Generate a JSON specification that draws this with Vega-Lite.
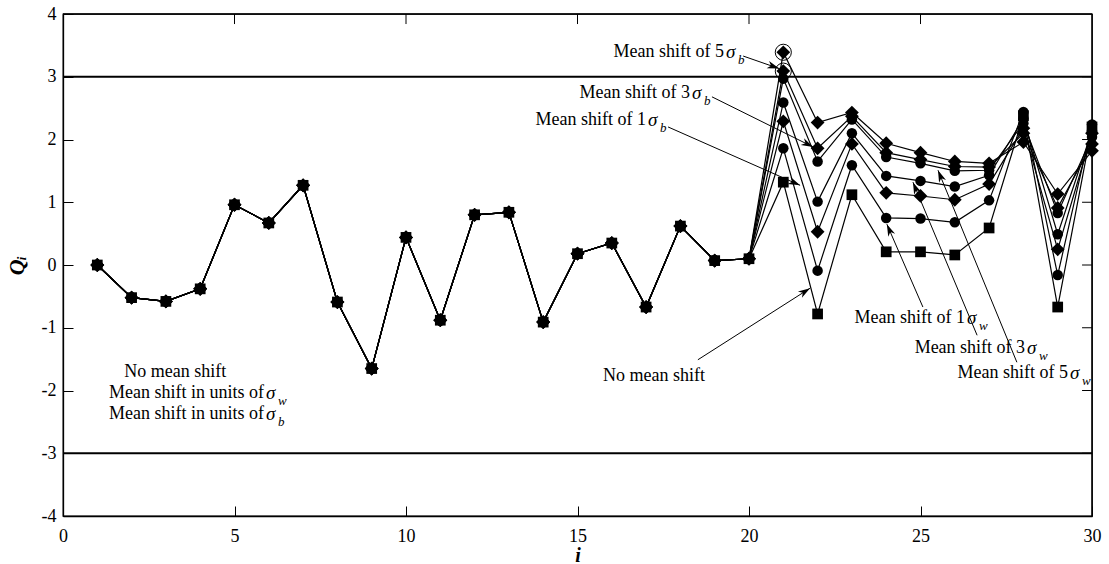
{
  "$schema": "https://vega.github.io/schema/vega-lite/v6.json",
  "width": 1029,
  "height": 502,
  "autosize": {"type": "none"},
  "padding": {"left": 63, "top": 14, "right": 17, "bottom": 48},
  "background": "white",
  "config": {
    "view": {"stroke": "black", "strokeWidth": 1.3},
    "font": "Liberation Serif",
    "axis": {
      "domainColor": "black", "tickColor": "black", "labelColor": "black", "titleColor": "black",
      "grid": false, "tickSize": -10, "domainWidth": 1.3, "tickWidth": 1,
      "labelFont": "Liberation Serif", "labelFontSize": 18, "titleFont": "Liberation Serif",
      "labelFlush": false, "labelOverlap": false
    }
  },
  "datasets": {
    "qs": [
      {"i": 1, "S0": 0, "W1": 0, "W3": 0, "W5": 0, "B1": 0, "B3": 0, "B5": 0},
      {"i": 2, "S0": -0.52, "W1": -0.52, "W3": -0.52, "W5": -0.52, "B1": -0.52, "B3": -0.52, "B5": -0.52},
      {"i": 3, "S0": -0.58, "W1": -0.58, "W3": -0.58, "W5": -0.58, "B1": -0.58, "B3": -0.58, "B5": -0.58},
      {"i": 4, "S0": -0.38, "W1": -0.38, "W3": -0.38, "W5": -0.38, "B1": -0.38, "B3": -0.38, "B5": -0.38},
      {"i": 5, "S0": 0.96, "W1": 0.96, "W3": 0.96, "W5": 0.96, "B1": 0.96, "B3": 0.96, "B5": 0.96},
      {"i": 6, "S0": 0.67, "W1": 0.67, "W3": 0.67, "W5": 0.67, "B1": 0.67, "B3": 0.67, "B5": 0.67},
      {"i": 7, "S0": 1.27, "W1": 1.27, "W3": 1.27, "W5": 1.27, "B1": 1.27, "B3": 1.27, "B5": 1.27},
      {"i": 8, "S0": -0.59, "W1": -0.59, "W3": -0.59, "W5": -0.59, "B1": -0.59, "B3": -0.59, "B5": -0.59},
      {"i": 9, "S0": -1.65, "W1": -1.65, "W3": -1.65, "W5": -1.65, "B1": -1.65, "B3": -1.65, "B5": -1.65},
      {"i": 10, "S0": 0.44, "W1": 0.44, "W3": 0.44, "W5": 0.44, "B1": 0.44, "B3": 0.44, "B5": 0.44},
      {"i": 11, "S0": -0.88, "W1": -0.88, "W3": -0.88, "W5": -0.88, "B1": -0.88, "B3": -0.88, "B5": -0.88},
      {"i": 12, "S0": 0.8, "W1": 0.8, "W3": 0.8, "W5": 0.8, "B1": 0.8, "B3": 0.8, "B5": 0.8},
      {"i": 13, "S0": 0.84, "W1": 0.84, "W3": 0.84, "W5": 0.84, "B1": 0.84, "B3": 0.84, "B5": 0.84},
      {"i": 14, "S0": -0.91, "W1": -0.91, "W3": -0.91, "W5": -0.91, "B1": -0.91, "B3": -0.91, "B5": -0.91},
      {"i": 15, "S0": 0.18, "W1": 0.18, "W3": 0.18, "W5": 0.18, "B1": 0.18, "B3": 0.18, "B5": 0.18},
      {"i": 16, "S0": 0.35, "W1": 0.35, "W3": 0.35, "W5": 0.35, "B1": 0.35, "B3": 0.35, "B5": 0.35},
      {"i": 17, "S0": -0.67, "W1": -0.67, "W3": -0.67, "W5": -0.67, "B1": -0.67, "B3": -0.67, "B5": -0.67},
      {"i": 18, "S0": 0.62, "W1": 0.62, "W3": 0.62, "W5": 0.62, "B1": 0.62, "B3": 0.62, "B5": 0.62},
      {"i": 19, "S0": 0.07, "W1": 0.07, "W3": 0.07, "W5": 0.07, "B1": 0.07, "B3": 0.07, "B5": 0.07},
      {"i": 20, "S0": 0.1, "W1": 0.1, "W3": 0.1, "W5": 0.1, "B1": 0.1, "B3": 0.1, "B5": 0.1},
      {"i": 21, "S0": 1.32, "W1": 1.86, "W3": 2.59, "W5": 2.97, "B1": 2.29, "B3": 3.09, "B5": 3.39},
      {"i": 22, "S0": -0.78, "W1": -0.09, "W3": 1.01, "W5": 1.65, "B1": 0.53, "B3": 1.86, "B5": 2.27},
      {"i": 23, "S0": 1.12, "W1": 1.59, "W3": 2.1, "W5": 2.32, "B1": 1.93, "B3": 2.37, "B5": 2.43},
      {"i": 24, "S0": 0.21, "W1": 0.75, "W3": 1.42, "W5": 1.72, "B1": 1.15, "B3": 1.79, "B5": 1.94},
      {"i": 25, "S0": 0.21, "W1": 0.74, "W3": 1.34, "W5": 1.62, "B1": 1.1, "B3": 1.68, "B5": 1.79},
      {"i": 26, "S0": 0.16, "W1": 0.68, "W3": 1.25, "W5": 1.5, "B1": 1.04, "B3": 1.57, "B5": 1.65},
      {"i": 27, "S0": 0.59, "W1": 1.03, "W3": 1.43, "W5": 1.51, "B1": 1.29, "B3": 1.56, "B5": 1.62},
      {"i": 28, "S0": 2.38, "W1": 2.44, "W3": 2.33, "W5": 2.26, "B1": 2.18, "B3": 2.1, "B5": 1.96},
      {"i": 29, "S0": -0.67, "W1": -0.16, "W3": 0.49, "W5": 0.83, "B1": 0.25, "B3": 0.91, "B5": 1.13},
      {"i": 30, "S0": 2.2, "W1": 2.24, "W3": 2.14, "W5": 2.04, "B1": 2.1, "B3": 1.93, "B5": 1.82}
    ],
    "limits": [{"lim": 3}, {"lim": -3}],
    "frameh": [{"v": 4}],
    "framev": [{"v": 30}],
    "topticks": [{"t": 5, "a": 4, "b": 3.84}, {"t": 10, "a": 4, "b": 3.84}, {"t": 15, "a": 4, "b": 3.84}, {"t": 20, "a": 4, "b": 3.84}, {"t": 25, "a": 4, "b": 3.84}],
    "rightticks": [{"t": -3, "a": 30, "b": 29.71}, {"t": -2, "a": 30, "b": 29.71}, {"t": -1, "a": 30, "b": 29.71}, {"t": 0, "a": 30, "b": 29.71}, {"t": 1, "a": 30, "b": 29.71}, {"t": 2, "a": 30, "b": 29.71}, {"t": 3, "a": 30, "b": 29.71}],
    "arrows": [
      {"x1": 19.83, "y1": 3.33, "x2": 20.88, "y2": 3.13},
      {"x1": 18.92, "y1": 2.68, "x2": 21.87, "y2": 1.88},
      {"x1": 17.64, "y1": 2.2, "x2": 21.49, "y2": 1.27},
      {"x1": 18.51, "y1": -1.51, "x2": 21.78, "y2": -0.37},
      {"x1": 25.07, "y1": -0.67, "x2": 24.02, "y2": 0.65},
      {"x1": 26.65, "y1": -1.12, "x2": 24.78, "y2": 1.32},
      {"x1": 27.81, "y1": -1.55, "x2": 25.51, "y2": 1.51}
    ],
    "notes": [
      {"x": 19.27, "y": 3.394, "pre": "Mean shift of 5", "sub": "b"},
      {"x": 18.28, "y": 2.741, "pre": "Mean shift of 3", "sub": "b"},
      {"x": 17.0, "y": 2.311, "pre": "Mean shift of 1", "sub": "b"},
      {"x": 26.3, "y": -0.845, "pre": "Mean shift of 1", "sub": "w"},
      {"x": 28.05, "y": -1.323, "pre": "Mean shift of 3", "sub": "w"},
      {"x": 29.3, "y": -1.721, "pre": "Mean shift of 5", "sub": "w"},
      {"x": 5.86, "y": -2.04, "pre": "Mean shift in units of", "sub": "w"},
      {"x": 5.86, "y": -2.375, "pre": "Mean shift in units of", "sub": "b"}
    ],
    "plain": [
      {"x": 17.23, "y": -1.77, "label": "No mean shift"},
      {"x": 3.27, "y": -1.705, "label": "No mean shift"}
    ]
  },
  "layer": [
    {
      "data": {"name": "qs"},
      "transform": [{"fold": ["S0", "W1", "W3", "W5", "B1", "B3", "B5"], "as": ["series", "q"]}],
      "mark": {"type": "line", "color": "black", "strokeWidth": 1.2},
      "encoding": {
        "x": {"field": "i", "type": "quantitative", "scale": {"domain": [0, 30], "nice": false},
          "axis": {"orient": "bottom", "values": [0, 5, 10, 15, 20, 25, 30], "title": "i", "tickSize": -10,
            "labelFont": "Liberation Serif", "labelFontSize": 18, "titleFont": "Liberation Serif",
            "titleFontStyle": "italic", "titleFontWeight": "bold", "titleFontSize": 20, "titlePadding": 0, "labelPadding": 21}},
        "y": {"field": "q", "type": "quantitative", "scale": {"domain": [-4, 4], "nice": false, "zero": false},
          "axis": {"orient": "left", "values": [-4, -3, -2, -1, 0, 1, 2, 3, 4], "labelExpr": "'' + datum.value", "tickSize": -10,
            "labelFont": "Liberation Serif", "labelFontSize": 18, "titleFont": "Liberation Serif",
            "title": "Qᵢ", "titleFontStyle": "italic", "titleFontWeight": "bold", "titleFontSize": 22, "titlePadding": 13, "labelPadding": 17}},
        "detail": {"field": "series"}
      }
    },
    {
      "data": {"name": "limits"},
      "mark": {"type": "rule", "color": "black", "strokeWidth": 2.2},
      "encoding": {
        "y": {"field": "lim", "type": "quantitative"}
      }
    },
    {
      "data": {"name": "frameh"},
      "mark": {"type": "rule", "color": "black", "strokeWidth": 1.3},
      "encoding": {
        "y": {"field": "v", "type": "quantitative"}
      }
    },
    {
      "data": {"name": "framev"},
      "mark": {"type": "rule", "color": "black", "strokeWidth": 1.3},
      "encoding": {
        "x": {"field": "v", "type": "quantitative"}
      }
    },
    {
      "data": {"name": "topticks"},
      "mark": {"type": "rule", "color": "black", "strokeWidth": 1},
      "encoding": {
        "x": {"field": "t", "type": "quantitative"},
        "y": {"field": "a", "type": "quantitative"},
        "y2": {"field": "b"}
      }
    },
    {
      "data": {"name": "rightticks"},
      "mark": {"type": "rule", "color": "black", "strokeWidth": 1},
      "encoding": {
        "y": {"field": "t", "type": "quantitative"},
        "x": {"field": "a", "type": "quantitative"},
        "x2": {"field": "b"}
      }
    },
    {
      "data": {"name": "qs"},
      "transform": [{"fold": ["S0", "W1", "W3", "W5", "B1", "B3", "B5"], "as": ["series", "q"]}, {"filter": {"field": "series", "oneOf": ["S0"]}}],
      "mark": {"type": "point", "shape": "square", "filled": true, "color": "black", "opacity": 1, "size": 115},
      "encoding": {
        "x": {"field": "i", "type": "quantitative"},
        "y": {"field": "q", "type": "quantitative"}
      }
    },
    {
      "data": {"name": "qs"},
      "transform": [{"fold": ["S0", "W1", "W3", "W5", "B1", "B3", "B5"], "as": ["series", "q"]}, {"filter": {"field": "series", "oneOf": ["W1", "W3", "W5"]}}],
      "mark": {"type": "point", "shape": "circle", "filled": true, "color": "black", "opacity": 1, "size": 110},
      "encoding": {
        "x": {"field": "i", "type": "quantitative"},
        "y": {"field": "q", "type": "quantitative"}
      }
    },
    {
      "data": {"name": "qs"},
      "transform": [{"fold": ["S0", "W1", "W3", "W5", "B1", "B3", "B5"], "as": ["series", "q"]}, {"filter": {"field": "series", "oneOf": ["B1", "B3", "B5"]}}],
      "mark": {"type": "point", "shape": "diamond", "filled": true, "color": "black", "opacity": 1, "size": 190},
      "encoding": {
        "x": {"field": "i", "type": "quantitative"},
        "y": {"field": "q", "type": "quantitative"}
      }
    },
    {
      "data": {"name": "qs"},
      "transform": [{"fold": ["S0", "W1", "W3", "W5", "B1", "B3", "B5"], "as": ["series", "q"]}, {"filter": {"field": "q", "gt": 3}}],
      "mark": {"type": "point", "shape": "circle", "filled": false, "stroke": "black", "strokeWidth": 1, "opacity": 1, "size": 260},
      "encoding": {
        "x": {"field": "i", "type": "quantitative"},
        "y": {"field": "q", "type": "quantitative"}
      }
    },
    {
      "data": {"name": "arrows"},
      "mark": {"type": "rule", "color": "black", "strokeWidth": 1},
      "encoding": {
        "x": {"field": "x1", "type": "quantitative"},
        "y": {"field": "y1", "type": "quantitative"},
        "x2": {"field": "x2"},
        "y2": {"field": "y2"}
      }
    },
    {
      "data": {"name": "arrows"},
      "transform": [{"calculate": "atan2((datum.x2 - datum.x1) * 34.3, (datum.y2 - datum.y1) * 62.75) * 180 / PI", "as": "ang"}],
      "mark": {"type": "point", "shape": "M0,0L0.5,1.6L0,1.15L-0.5,1.6Z", "filled": true, "color": "black", "opacity": 1, "size": 225},
      "encoding": {
        "x": {"field": "x2", "type": "quantitative"},
        "y": {"field": "y2", "type": "quantitative"},
        "angle": {"field": "ang", "type": "quantitative", "scale": null}
      }
    },
    {
      "data": {"name": "notes"},
      "mark": {"type": "text", "align": "right", "baseline": "middle", "font": "Liberation Serif", "fontSize": 18, "color": "black"},
      "encoding": {
        "x": {"field": "x", "type": "quantitative"},
        "y": {"field": "y", "type": "quantitative"},
        "text": {"field": "pre"}
      }
    },
    {
      "data": {"name": "notes"},
      "mark": {"type": "text", "align": "left", "baseline": "middle", "dx": 2, "font": "Liberation Serif", "fontStyle": "italic", "fontSize": 19, "color": "black", "text": "σ"},
      "encoding": {
        "x": {"field": "x", "type": "quantitative"},
        "y": {"field": "y", "type": "quantitative"}
      }
    },
    {
      "data": {"name": "notes"},
      "mark": {"type": "text", "align": "left", "baseline": "middle", "dx": 14, "dy": 8, "font": "Liberation Serif", "fontStyle": "italic", "fontSize": 13, "color": "black"},
      "encoding": {
        "x": {"field": "x", "type": "quantitative"},
        "y": {"field": "y", "type": "quantitative"},
        "text": {"field": "sub"}
      }
    },
    {
      "data": {"name": "plain"},
      "mark": {"type": "text", "align": "center", "baseline": "middle", "font": "Liberation Serif", "fontSize": 18, "color": "black"},
      "encoding": {
        "x": {"field": "x", "type": "quantitative"},
        "y": {"field": "y", "type": "quantitative"},
        "text": {"field": "label"}
      }
    }
  ]
}
